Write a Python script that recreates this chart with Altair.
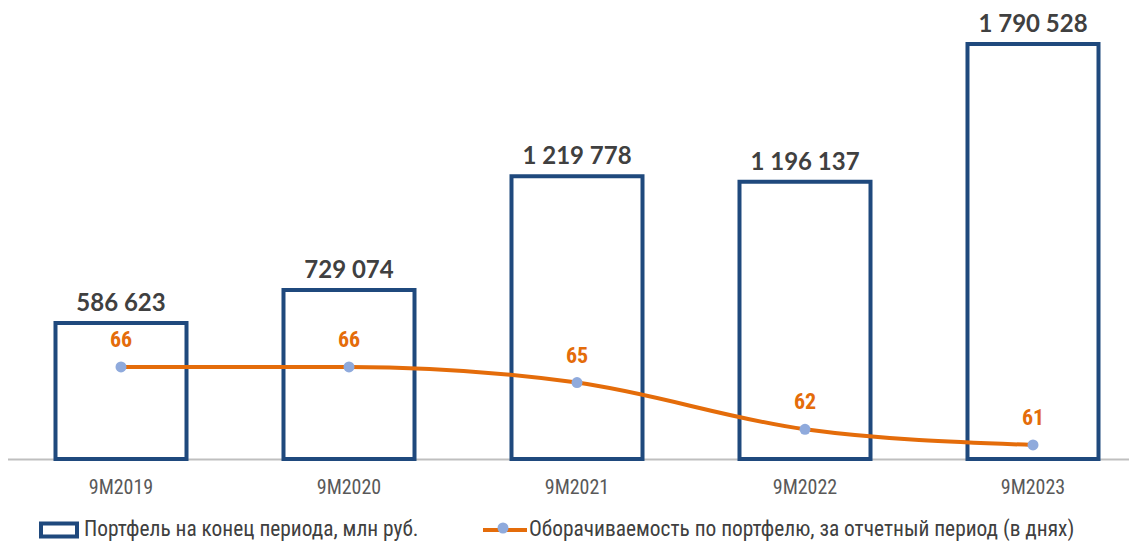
import altair as alt
import pandas as pd

periods = ["9M2019", "9M2020", "9M2021", "9M2022", "9M2023"]
portfolio = [586623, 729074, 1219778, 1196137, 1790528]
turnover = [66, 66, 65, 62, 61]

bar_name = "Портфель на конец периода, млн руб."
line_name = "Оборачиваемость по портфелю, за отчетный период (в днях)"

df = pd.DataFrame({
    "period": periods,
    "portfolio": portfolio,
    "turnover": turnover,
    "plabel": [f"{v:,}".replace(",", " ") for v in portfolio],
    "sbar": [bar_name] * len(periods),
    "sline": [line_name] * len(periods),
    "spt": ["pt"] * len(periods),
})

NARROW = "Liberation Sans Narrow, Arial Narrow, Roboto Condensed, Roboto, sans-serif"
BLUE = "#1F497D"
ORANGE = "#E46C0A"
DOT = "#8FAADC"

x = alt.X("period:N", sort=periods, title=None,
          scale=alt.Scale(paddingInner=0.4254, paddingOuter=0.2127),
          axis=alt.Axis(labelAngle=0, ticks=False, domainColor="#BFBFBF", domainWidth=2,
                        labelFont=NARROW, labelFontSize=20, labelColor="#595959",
                        labelPadding=18, grid=False))

ybar = alt.Y("portfolio:Q", axis=None, scale=alt.Scale(domain=[0, 1945826], nice=False))
yline = alt.Y("turnover:Q", axis=None, scale=alt.Scale(domain=[60.1, 89.0], nice=False, zero=False))

base = alt.Chart(df)

bars = base.mark_bar(fill="white", strokeWidth=4).encode(
    x=x, y=ybar,
    stroke=alt.Stroke("sbar:N", scale=alt.Scale(domain=[bar_name], range=[BLUE]),
                      legend=alt.Legend(orient="none", legendX=32, legendY=502, title=None,
                                        padding=0, symbolType="M-1,-0.36H1V0.36H-1Z",
                                        symbolSize=1296, symbolStrokeWidth=4,
                                        symbolFillColor="white", labelFont=NARROW,
                                        labelFontSize=21.4, labelColor="#404040", labelOffset=5,
                                        labelLimit=0)),
)
bar_text = base.mark_text(dy=-12, baseline="alphabetic", font="Lato", fontWeight="bold",
                          fontSize=24, color="#404040").encode(x=x, y=ybar, text="plabel:N")

line = base.mark_line(strokeWidth=4, interpolate="monotone").encode(
    x=x, y=yline,
    color=alt.Color("sline:N", scale=alt.Scale(domain=[line_name], range=[ORANGE]),
                    legend=alt.Legend(orient="none", legendX=474, legendY=498, title=None,
                                      padding=0, symbolType="stroke", symbolSize=1936,
                                      symbolStrokeWidth=4, labelFont=NARROW,
                                      labelFontSize=21.4, labelColor="#404040", labelOffset=0,
                                      labelLimit=0)),
)
pts = base.mark_circle(size=121, opacity=1).encode(
    x=x, y=yline,
    fill=alt.Fill("spt:N", scale=alt.Scale(domain=["pt"], range=[DOT]),
                  legend=alt.Legend(orient="none", legendX=490.5, legendY=514.5, title=None,
                                    padding=0, symbolType="circle", symbolSize=121,
                                    symbolStrokeWidth=0, labelExpr="''", labelFontSize=1)),
)
line_text = base.mark_text(dy=-20, baseline="alphabetic", font=NARROW, fontWeight="bold",
                           fontSize=22, color=ORANGE).encode(x=x, y=yline, text="turnover:Q")

chart = alt.layer(
    alt.layer(bars, bar_text),
    alt.layer(line, pts, line_text),
).resolve_scale(y="independent").properties(
    width=1140, height=451, autosize="none",
    padding={"left": -1, "top": 0, "right": -18, "bottom": 84},
).configure_view(stroke=None)

chart.save("out.html", embed_options={"renderer": "svg", "actions": False})
